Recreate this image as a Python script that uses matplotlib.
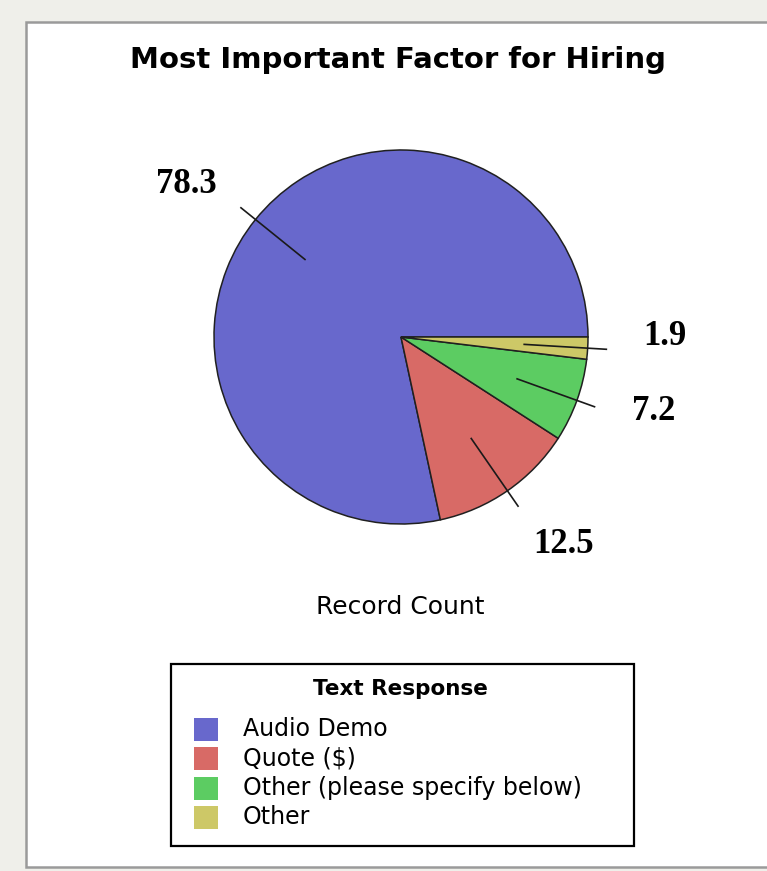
import numpy as np
import matplotlib.pyplot as plt
from matplotlib.patches import Rectangle

# survey results (percent of records)
categories = ['Audio Demo', 'Quote ($)', 'Other (please specify below)', 'Other']
values = [78.3, 12.5, 7.2, 1.9]
colors = ['#6868cc', '#d86a66', '#5ccc62', '#cdc867']

W, H = 767, 871
fig = plt.figure(figsize=(W / 100, H / 100), dpi=100)
fig.patch.set_facecolor('#efefea')

def fx(px):
    return px / W

def fy(py):
    return 1 - py / H

# white panel with grey frame
fig.patches.append(Rectangle((fx(26), fy(867)), fx(W + 10) - fx(26), fy(22) - fy(867),
                             transform=fig.transFigure, facecolor='white',
                             edgecolor='#9a9a9a', linewidth=1.8, zorder=-10))

fig.text(fx(398), fy(60), 'Most Important Factor for Hiring', ha='center', va='center',
         fontsize=21, fontweight='bold', family='DejaVu Sans')

# pie axes: centre (401, 337) px, radius 187 px
R = 187
cx, cy = 401, 337
half = 300
ax = fig.add_axes([fx(cx - half), fy(cy + half), 2 * half / W, 2 * half / H])
ax.set_zorder(5)
ax.patch.set_alpha(0)

wedges, _ = ax.pie(values, colors=colors, startangle=0, counterclock=True,
                   wedgeprops=dict(edgecolor='#202020', linewidth=1.1))
lim = half / R
ax.set_xlim(-lim, lim)
ax.set_ylim(-lim, lim)
ax.set_aspect('equal')
ax.axis('off')

# leader lines and value labels (labels sit a little anticlockwise of the line)
start = 0.0
total = sum(values)
for v in values:
    mid = (start + v / 2) / total * 360
    start += v
    a = np.deg2rad(mid)
    c, s = np.cos(a), np.sin(a)
    ax.plot([0.66 * c, 1.1 * c], [0.66 * s, 1.1 * s], color='#1a1a1a', linewidth=1.2)
    b = np.deg2rad(mid + 3.5)
    ax.text(1.41 * np.cos(b), 1.41 * np.sin(b), f'{v:.1f}', ha='center', va='center',
            fontsize=25, fontweight='bold', family='Liberation Serif')

fig.text(fx(400), fy(607), 'Record Count', ha='center', va='center',
         fontsize=18, family='DejaVu Sans')

# legend box
fig.patches.append(Rectangle((fx(171), fy(846)), fx(634) - fx(171), fy(664) - fy(846),
                             transform=fig.transFigure, facecolor='white',
                             edgecolor='black', linewidth=1.6, zorder=1))
fig.text(fx(400), fy(689), 'Text Response', ha='center', va='center',
         fontsize=15.5, fontweight='bold', family='DejaVu Sans')
for i, (lab, col) in enumerate(zip(categories, colors)):
    y = 729 + i * 29.3
    fig.patches.append(Rectangle((fx(194), fy(y + 12)), fx(218) - fx(194), fy(y - 11) - fy(y + 12),
                                 transform=fig.transFigure, facecolor=col,
                                 edgecolor='none', zorder=2))
    fig.text(fx(243), fy(y), lab, ha='left', va='center', fontsize=17, family='DejaVu Sans')

fig.savefig('out.png', dpi=100, facecolor=fig.get_facecolor())
